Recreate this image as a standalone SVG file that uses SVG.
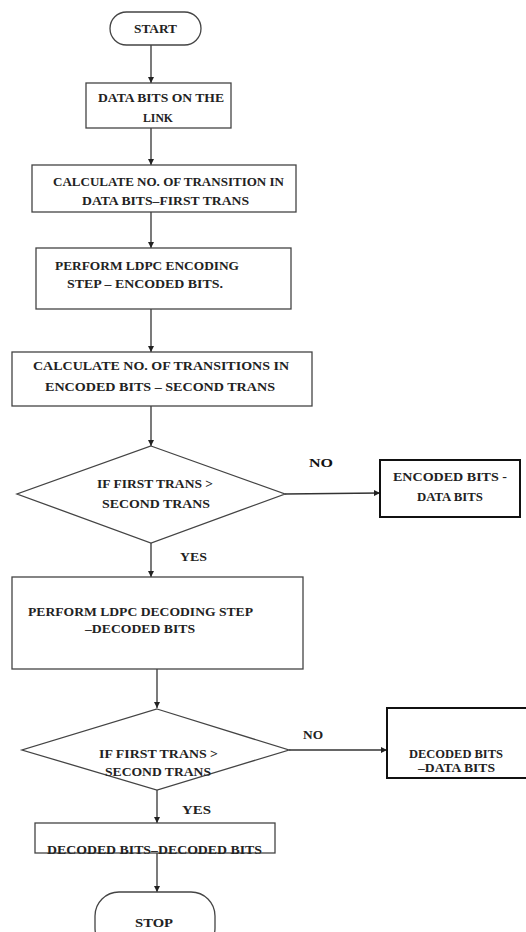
<svg xmlns="http://www.w3.org/2000/svg" width="526" height="932" viewBox="0 0 526 932">
<style>
.s{fill:#fff;stroke:#444;stroke-width:1.3}
.b{fill:#fff;stroke:#111;stroke-width:2}
.t{font-family:"Liberation Serif","Times New Roman",serif;font-size:12px;font-weight:bold;fill:#222}
.l{font-family:"Liberation Serif","Times New Roman",serif;font-size:13px;font-weight:bold;fill:#111}
.c{fill:none;stroke:#333;stroke-width:1.3}
</style>
<defs>
<marker id="ah" viewBox="0 0 10 10" refX="10" refY="5" markerWidth="6" markerHeight="6" orient="auto" markerUnits="userSpaceOnUse">
<path d="M0,0 L10,5 L0,10 z" fill="#222"/>
</marker>
</defs>
<rect width="526" height="932" fill="#fff"/>
<g id="connectors">
<line class="c" x1="151" y1="45" x2="151" y2="83" marker-end="url(#ah)"/>
<line class="c" x1="151" y1="128" x2="151" y2="165" marker-end="url(#ah)"/>
<line class="c" x1="151" y1="212" x2="151" y2="248" marker-end="url(#ah)"/>
<line class="c" x1="151" y1="309" x2="151" y2="352" marker-end="url(#ah)"/>
<line class="c" x1="151" y1="406" x2="151" y2="446" marker-end="url(#ah)"/>
<line class="c" x1="285" y1="494" x2="380" y2="493" marker-end="url(#ah)"/>
<line class="c" x1="151" y1="543" x2="151" y2="577" marker-end="url(#ah)"/>
<line class="c" x1="157" y1="669" x2="157" y2="708" marker-end="url(#ah)"/>
<line class="c" x1="289" y1="750" x2="387" y2="750" marker-end="url(#ah)"/>
<line class="c" x1="157" y1="790" x2="157" y2="823" marker-end="url(#ah)"/>
<line class="c" x1="157" y1="853" x2="157" y2="892" marker-end="url(#ah)"/>
<text class="l" x="309" y="467" textLength="24" lengthAdjust="spacingAndGlyphs">NO</text>
<text class="t" x="180" y="561" textLength="27" lengthAdjust="spacingAndGlyphs">YES</text>
<text class="t" x="303" y="739" textLength="20" lengthAdjust="spacingAndGlyphs">NO</text>
<text class="t" x="182" y="814" textLength="29" lengthAdjust="spacingAndGlyphs">YES</text>
</g>
<g id="start">
<rect class="s" x="110" y="12" width="91" height="33" rx="16.5"/>
<text class="t" x="134" y="33" textLength="43" lengthAdjust="spacingAndGlyphs">START</text>
</g>
<g id="data-bits">
<rect class="s" x="86" y="83" width="145" height="45"/>
<text class="t" x="98" y="102" textLength="126" lengthAdjust="spacingAndGlyphs">DATA BITS ON THE</text>
<text class="t" x="143" y="122" textLength="30" lengthAdjust="spacingAndGlyphs">LINK</text>
</g>
<g id="first-trans">
<rect class="s" x="32" y="165" width="264" height="47"/>
<text class="t" x="53" y="186" textLength="231" lengthAdjust="spacingAndGlyphs">CALCULATE NO. OF TRANSITION IN</text>
<text class="t" x="82" y="205" textLength="167" lengthAdjust="spacingAndGlyphs">DATA BITS–FIRST TRANS</text>
</g>
<g id="encoding">
<rect class="s" x="36" y="248" width="255" height="61"/>
<text class="t" x="55" y="270" textLength="184" lengthAdjust="spacingAndGlyphs">PERFORM LDPC ENCODING</text>
<text class="t" x="67" y="288" textLength="156" lengthAdjust="spacingAndGlyphs">STEP – ENCODED  BITS.</text>
</g>
<g id="second-trans">
<rect class="s" x="12" y="352" width="300" height="54"/>
<text class="t" x="33" y="370" textLength="256" lengthAdjust="spacingAndGlyphs">CALCULATE NO. OF TRANSITIONS  IN</text>
<text class="t" x="45" y="391" textLength="230" lengthAdjust="spacingAndGlyphs">ENCODED  BITS  – SECOND TRANS</text>
</g>
<g id="decision1">
<polygon class="s" points="151,446 285,494 151,543 17,494"/>
<text class="t" x="97" y="488" textLength="116" lengthAdjust="spacingAndGlyphs">IF FIRST  TRANS  &gt;</text>
<text class="t" x="102" y="508" textLength="108" lengthAdjust="spacingAndGlyphs">SECOND TRANS</text>
</g>
<g id="encoded-data">
<rect class="b" x="380" y="460" width="140" height="57"/>
<text class="t" x="393" y="481" textLength="114" lengthAdjust="spacingAndGlyphs">ENCODED  BITS  -</text>
<text class="t" x="417" y="501" textLength="66" lengthAdjust="spacingAndGlyphs">DATA  BITS</text>
</g>
<g id="decoding">
<rect class="s" x="12" y="577" width="291" height="92"/>
<text class="t" x="28" y="616" textLength="225" lengthAdjust="spacingAndGlyphs">PERFORM LDPC DECODING STEP</text>
<text class="t" x="85" y="633" textLength="110" lengthAdjust="spacingAndGlyphs">–DECODED BITS</text>
</g>
<g id="decision2">
<polygon class="s" points="157,709 289,750 157,790 22,750"/>
<text class="t" x="99" y="758" textLength="119" lengthAdjust="spacingAndGlyphs">IF FIRST TRANS &gt;</text>
<text class="t" x="105" y="776" textLength="106" lengthAdjust="spacingAndGlyphs">SECOND TRANS</text>
</g>
<g id="decoded-data">
<rect class="b" x="387" y="708" width="145" height="70"/>
<text class="t" x="409" y="758" textLength="94" lengthAdjust="spacingAndGlyphs">DECODED  BITS</text>
<text class="t" x="418" y="772" textLength="77" lengthAdjust="spacingAndGlyphs">–DATA  BITS</text>
</g>
<g id="decoded-result">
<rect class="s" x="35" y="823" width="240" height="30"/>
<text class="t" x="47" y="854" textLength="215" lengthAdjust="spacingAndGlyphs">DECODED  BITS–DECODED  BITS</text>
</g>
<g id="stop">
<rect class="s" x="95" y="892" width="120" height="60" rx="24"/>
<text class="t" x="135" y="927" textLength="38" lengthAdjust="spacingAndGlyphs">STOP</text>
</g>
</svg>
